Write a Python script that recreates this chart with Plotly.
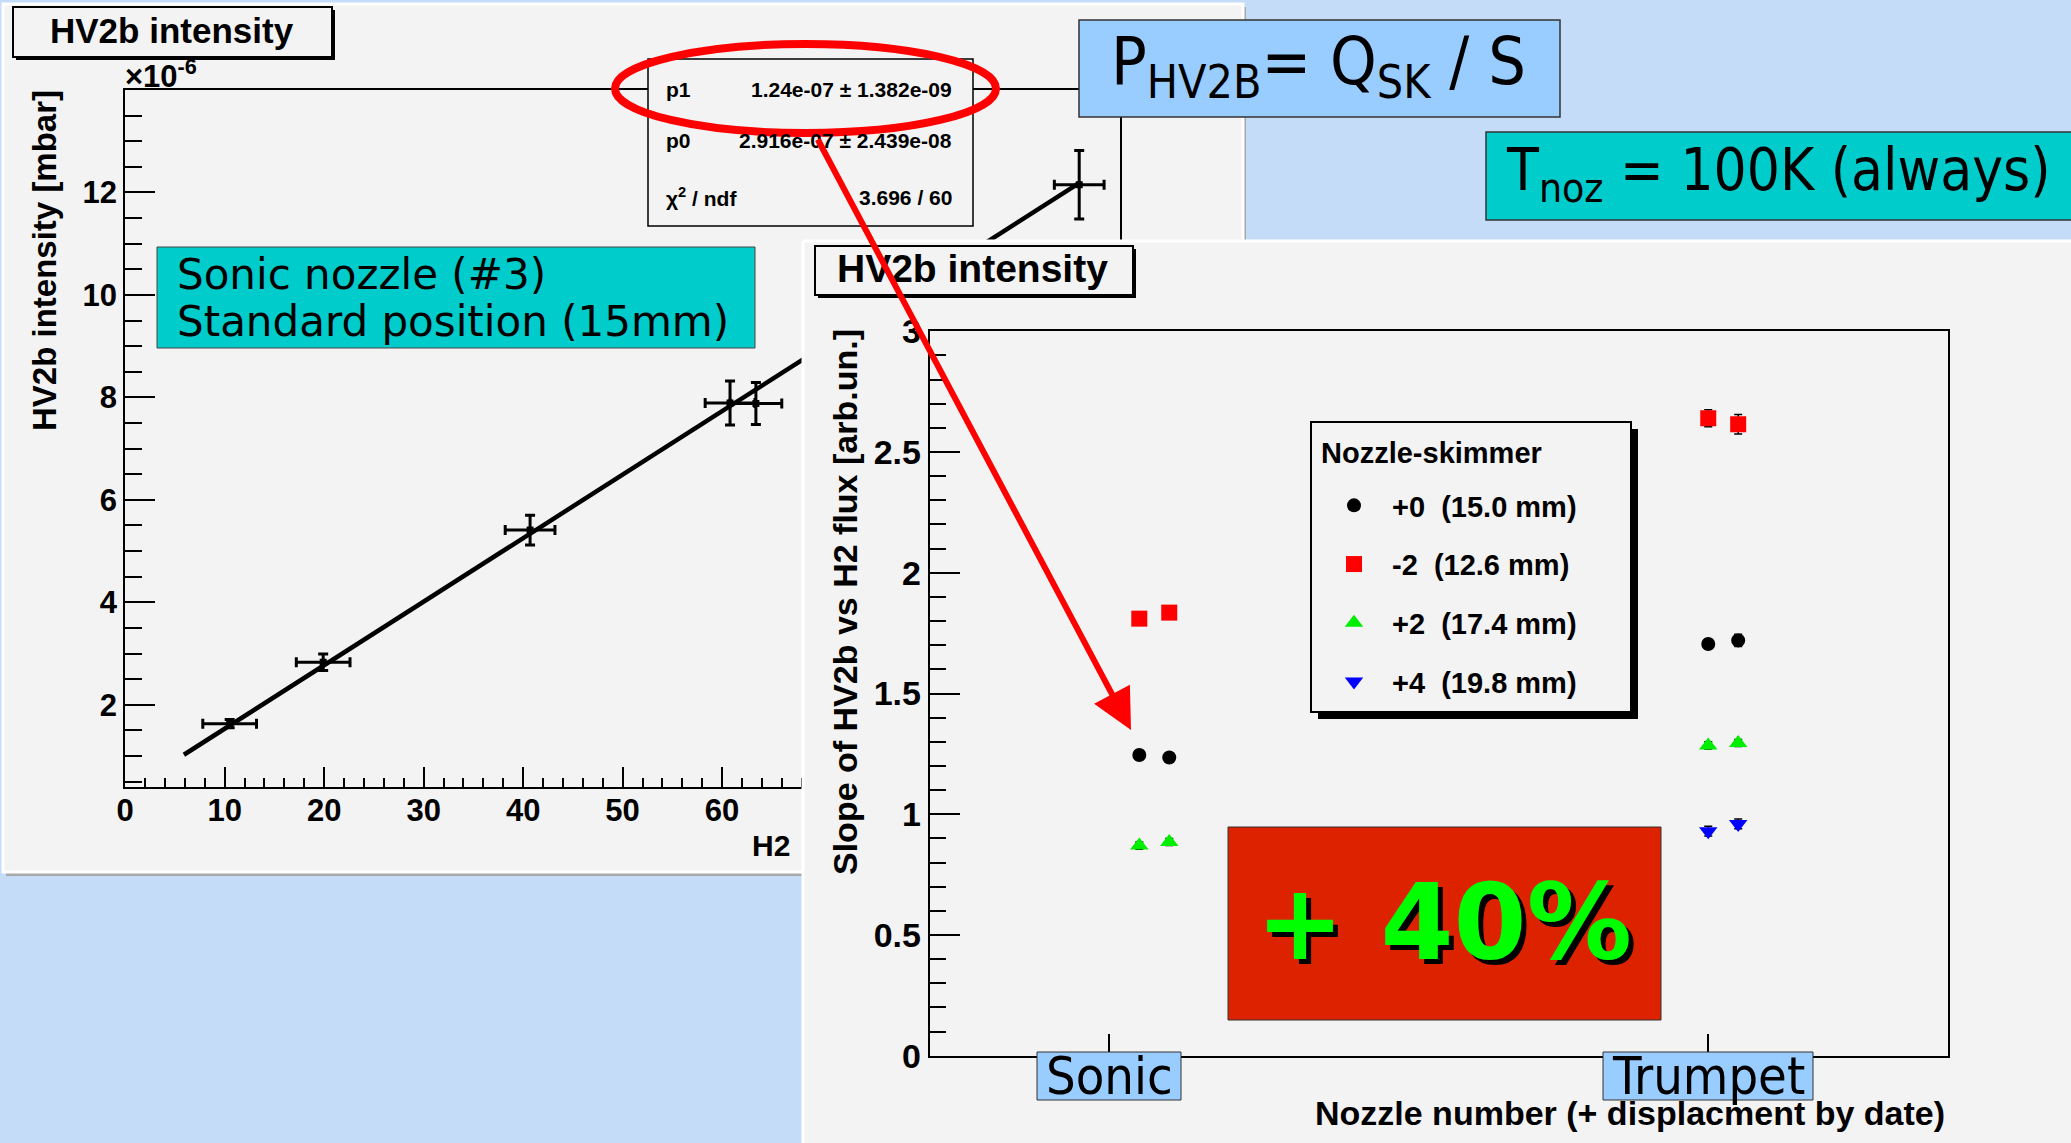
import plotly.graph_objects as go

W, H = 2071, 1143

# left panel: HV2b intensity vs H2 flux, sonic nozzle #3 (intensity in units of 1e-6 mbar)
flux = [10.5, 19.9, 40.7, 60.8, 63.4, 95.9]
flux_err = [2.7, 2.7, 2.5, 2.5, 2.6, 2.5]
intensity = [1.63, 2.83, 5.41, 7.89, 7.88, 12.15]
intensity_err = [0.08, 0.16, 0.29, 0.43, 0.41, 0.67]
left_yticks = [2, 4, 6, 8, 10, 12]

# linear fit shown in the stats box
p1 = 1.24e-07
p0 = 2.916e-07
fit_x = [5.9, 96.0]
fit_y = [(p1 * x + p0) * 1e6 for x in fit_x]
stats_labels = ["p1", "p0", "χ<sup>2</sup> / ndf"]
stats_values = ["1.24e-07 ± 1.382e-09", "2.916e-07 ± 2.439e-08", "3.696 / 60"]

# right panel: slope of HV2b vs H2 flux per nozzle (+ displacement by date)
nozzles = ["Sonic", "Trumpet"]
nozzle_num = [3, 4]
run_x = [3.05, 3.10, 4.00, 4.05]
legend_title = "Nozzle-skimmer"
series_names = ["+0\u00a0 (15.0 mm)", "-2\u00a0 (12.6 mm)", "+2\u00a0 (17.4 mm)", "+4\u00a0 (19.8 mm)"]
slope_p0 = [1.245, 1.235, 1.705, 1.72]
slope_m2 = [1.81, 1.835, 2.64, 2.615]
slope_p2 = [0.87, 0.885, 1.285, 1.295]
slope_p4 = [None, None, 0.93, 0.96]
err_p0 = [0.02, 0.02, 0.02, 0.025]
err_m2 = [0.02, 0.02, 0.035, 0.04]
err_p2 = [0.015, 0.015, 0.015, 0.015]
err_p4 = [0, 0, 0.02, 0.02]

ROOT = "Liberation Sans, Arial, Helvetica, sans-serif"
SLIDE = "DejaVu Sans, sans-serif"
SLIDE_C = "DejaVu Sans Condensed, DejaVu Sans, sans-serif"
PANEL = "#f3f3f3"


def px(x):
    return x / W


def py(y):
    return 1 - y / H


def rect(x0, y0, x1, y1, fill, line="black", lw=2, layer="above"):
    return dict(type="rect", xref="paper", yref="paper", layer=layer,
                x0=px(x0), x1=px(x1), y0=py(y1), y1=py(y0),
                fillcolor=fill, line=dict(color=line, width=lw))


def label(x, y, s, size, family=ROOT, bold=True, color="black", xanchor="center", **kw):
    d = dict(x=px(x), y=py(y), xref="paper", yref="paper", text=s, showarrow=False,
             xanchor=xanchor, yanchor="middle",
             font=dict(family=family, size=size, color=color, weight="bold" if bold else "normal"))
    d.update(kw)
    return d


fig = go.Figure()

# left plot
fig.add_trace(go.Scatter(x=fit_x, y=fit_y, mode="lines", line=dict(color="black", width=4.5),
                         showlegend=False, hoverinfo="skip"))
fig.add_trace(go.Scatter(x=flux, y=intensity, mode="markers",
                         marker=dict(symbol="square", size=7, color="black"),
                         error_x=dict(array=flux_err, color="black", thickness=3, width=5),
                         error_y=dict(array=intensity_err, color="black", thickness=3, width=5),
                         showlegend=False))
# empty subplot whose background is the right-hand panel (hides the left plot behind it)
fig.add_trace(go.Scatter(x=[], y=[], xaxis="x2", yaxis="y2", showlegend=False, hoverinfo="skip"))

# right plot
series = [
    (series_names[0], slope_p0, err_p0, "circle", "black", 14),
    (series_names[1], slope_m2, err_m2, "square", "red", 16),
    (series_names[2], slope_p2, err_p2, "triangle-up", "#00ee00", 16),
    (series_names[3], slope_p4, err_p4, "triangle-down", "blue", 16),
]
for name, ys, errs, sym, col, size in series:
    fig.add_trace(go.Scatter(x=run_x, y=ys, mode="markers", name=name, legendgroup=name,
                             marker=dict(symbol=sym, size=size, color=col),
                             error_y=dict(array=errs, color="black", thickness=1.5, width=4),
                             xaxis="x3", yaxis="y3"))

axis_common = dict(showline=True, linecolor="black", linewidth=2, mirror=True, showgrid=False,
                   zeroline=False, ticks="inside", tickcolor="black", tickwidth=2,
                   automargin=False)

shapes = [
    rect(6, 7, 1246, 876, "#a8a8a8", line="#a8a8a8", lw=0, layer="below"),
    rect(3, 4, 1243, 872, PANEL, line="white", lw=3, layer="below"),
    dict(type="line", xref="paper", yref="paper", x0=px(803), x1=1, y0=py(241), y1=py(241),
         line=dict(color="white", width=3), layer="above"),
    dict(type="line", xref="paper", yref="paper", x0=px(803), x1=px(803), y0=0, y1=py(241),
         line=dict(color="white", width=3), layer="above"),
    rect(16, 10, 335, 60, "black", lw=0),
    rect(13, 7, 332, 57, PANEL, lw=2),
    rect(648, 59, 973, 226, PANEL, lw=1.5),
    dict(type="circle", xref="paper", yref="paper", x0=px(615), x1=px(996), y0=py(133), y1=py(44),
         line=dict(color="red", width=8), layer="above"),
    rect(157, 247, 755, 348, "#00cccc", line="#444", lw=1),
    rect(1079, 20, 1560, 117, "#99ccff", line="#333", lw=1.5),
    rect(1486, 132, 2075, 220, "#00cccc", line="#333", lw=1.5),
    rect(818, 249, 1136, 298, "black", lw=0),
    rect(815, 246, 1133, 295, PANEL, lw=2),
    rect(1318, 429, 1638, 719, "black", lw=0),
    rect(1311, 422, 1631, 712, PANEL, lw=2),
    rect(1228, 827, 1661, 1020, "#dd2200", line="#333", lw=1),
    rect(1037, 1052, 1181, 1100, "#99ccff", line="#333", lw=1),
    rect(1603, 1052, 1813, 1100, "#99ccff", line="#333", lw=1),
]

annotations = [
    label(172, 30, "HV2b intensity", 35),
    label(123, 74, "×10<sup>-6</sup>", 31, xanchor="left"),
    label(44, 261, "HV2b intensity [mbar]", 33, textangle=-90),
    label(771, 845, "H2", 30),
    label(175, 274, "Sonic nozzle (#3)", 42, family=SLIDE, bold=False, xanchor="left"),
    label(175, 321, "Standard position (15mm)", 42, family=SLIDE, bold=False, xanchor="left"),
    label(1319, 66, "P<sub>HV2B</sub>= Q<sub>SK</sub> / S", 66, family=SLIDE_C, bold=False),
    label(1778, 174, "T<sub>noz</sub> = 100K (always)", 58, family=SLIDE_C, bold=False),
    label(972, 268, "HV2b intensity", 39),
    label(845, 602, "Slope of HV2b vs H2 flux [arb.un.]", 34, textangle=-90),
    label(1947, 1113, "Nozzle number (+ displacment by date)", 34, xanchor="right"),
    label(1319, 453, legend_title, 29, xanchor="left"),
    label(1444, 923, "+ 40%", 105, family="DejaVu Sans, sans-serif", color="#00ff00"),
]
annotations[-1]["font"]["shadow"] = "5px 5px 0px black"

for row, (name, val) in enumerate(zip(stats_labels, stats_values)):
    yy = [89, 140, 197][row]
    annotations.append(label(664, yy, name, 21, xanchor="left"))
    annotations.append(label(954, yy, val, 21, xanchor="right"))

for name, pos in zip(nozzles, nozzle_num):
    a = label(0, 1076, name, 52, family=SLIDE_C, bold=False)
    a.update(x=pos, xref="x3")
    annotations.append(a)

annotations.append(dict(x=px(1131), y=py(730), xref="paper", yref="paper", ax=-314, ay=-592,
                        showarrow=True, arrowhead=2, arrowsize=1.35, arrowwidth=6,
                        arrowcolor="red", text=""))

fig.update_layout(
    template="none",
    width=W, height=H, autosize=False,
    margin=dict(l=0, r=0, t=0, b=0, pad=0, autoexpand=False),
    paper_bgcolor="#c4dcf7", plot_bgcolor=PANEL,
    xaxis=dict(axis_common, domain=[px(125.2), px(1120)], range=[0, 100], anchor="y",
               dtick=10, tick0=0, ticklen=20, ticklabelstandoff=-5,
               minor=dict(dtick=2, ticklen=9, ticks="inside", tickcolor="black", tickwidth=1.5),
               tickfont=dict(family=ROOT, size=31, color="black", weight="bold")),
    yaxis=dict(axis_common, domain=[py(786.7), py(90)], range=[0.4, 14], anchor="x",
               tickvals=left_yticks, ticklen=30,
               minor=dict(dtick=0.5, ticklen=17, ticks="inside", tickcolor="black", tickwidth=1.5),
               tickfont=dict(family=ROOT, size=31, color="black", weight="bold")),
    xaxis2=dict(domain=[px(803), 1], range=[0, 1], anchor="y2", visible=False, automargin=False),
    yaxis2=dict(domain=[0, py(241)], range=[0, 1], anchor="x2", visible=False, automargin=False),
    xaxis3=dict(axis_common, domain=[px(929.7), px(1947.8)], range=[2.7, 4.4], anchor="y3",
                tickvals=nozzle_num, showticklabels=False, ticklen=22),
    yaxis3=dict(axis_common, domain=[py(1055.7), py(331.3)], range=[0, 3], anchor="x3",
                dtick=0.5, ticklen=30,
                minor=dict(dtick=0.1, ticklen=16, ticks="inside", tickcolor="black", tickwidth=1.5),
                tickfont=dict(family=ROOT, size=34, color="black", weight="bold")),
    legend=dict(x=px(1316), y=py(480), xanchor="left", yanchor="top",
                bgcolor="rgba(0,0,0,0)", borderwidth=0, itemwidth=66, tracegroupgap=18,
                font=dict(family=ROOT, size=29, color="black", weight="bold")),
    shapes=shapes,
    annotations=annotations,
    showlegend=True,
)

# the page body has a default 8px margin; drop it so the figure fills the window
fig.write_html("out.html", config={"displayModeBar": False},
               post_script="document.body.style.margin = '0px';")
